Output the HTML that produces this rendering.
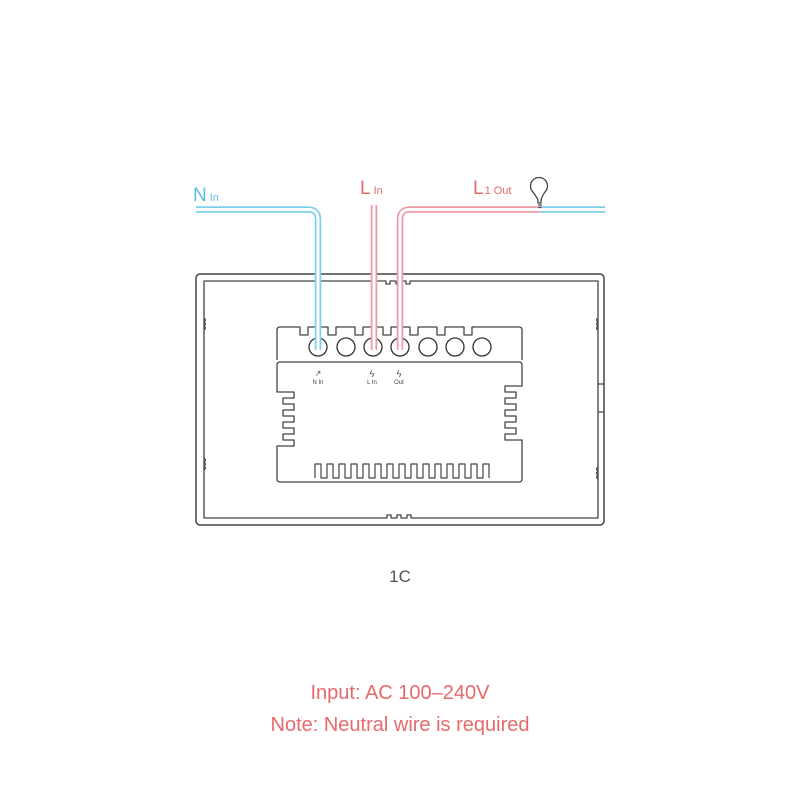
<!DOCTYPE html>
<html><head><style>body{margin:0;background:#fff}svg{display:block}</style></head><body>
<svg width="800" height="800" viewBox="0 0 800 800" font-family="Liberation Sans, sans-serif">
<g fill="none" stroke-linejoin="round">
<rect x="196" y="274" width="408" height="251" rx="4" stroke="#444" stroke-width="1.5"/>
<path d="M204 281 H386 v3 h4 v-3 h6 v3 h4 v-3 h6 v3 h4 v-3 H598 V518 H411 v-3 h-4 v3 h-6 v-3 h-4 v3 h-6 v-3 h-4 v3 H204 Z" stroke="#444" stroke-width="1.3"/>
<path d="M204 318 q3 2 0 4 q3 2 0 4 q3 2 0 4 M204 458 q3 2 0 4 q3 2 0 4 q3 2 0 4 M598 318 q-3 2 0 4 q-3 2 0 4 q-3 2 0 4 M598 467 q-3 2 0 4 q-3 2 0 4 q-3 2 0 4" stroke="#444" stroke-width="1.2"/>
<path d="M598 384 h6 M598 412 h6" stroke="#444" stroke-width="1.3"/>
<!-- terminal block top -->
<path d="M277 360 V330 q0-3 3-3 H300 v8 h8 v-8 H328 v8 h8 v-8 H355 v8 h8 v-8 H383 v8 h8 v-8 H410 v8 h8 v-8 H437 v8 h8 v-8 H464 v8 h8 v-8 H519 q3 0 3 3 V360" stroke="#444" stroke-width="1.3"/>
<g stroke="#333" stroke-width="1.3">
<circle cx="318" cy="347" r="9"/><circle cx="346" cy="347" r="9"/><circle cx="373" cy="347" r="9"/><circle cx="400" cy="347" r="9"/><circle cx="428" cy="347" r="9"/><circle cx="455" cy="347" r="9"/><circle cx="482" cy="347" r="9"/>
</g>
<!-- lower box -->
<path d="M280 362 H519 q3 0 3 3 V386 h-17 v6 h11 v6 h-11 v6 h11 v6 h-11 v6 h11 v6 h-11 v6 h11 v6 h-11 v6 h17 V479 q0 3-3 3 H280 q-3 0-3-3 V446 h17 v-6 h-11 v-6 h11 v-6 h-11 v-6 h11 v-6 h-11 v-6 h11 v-6 h-11 v-6 h11 v-6 h-17 V365 q0-3 3-3 Z" stroke="#444" stroke-width="1.3"/>
<path d="M315 478 V464 h6 v14 h6 v-14 h6 v14 h6 v-14 h6 v14 h6 v-14 h6 v14 h6 v-14 h6 v14 h6 v-14 h6 v14 h6 v-14 h6 v14 h6 v-14 h6 v14 h6 v-14 h6 v14 h6 v-14 h6 v14 h6 v-14 h6 v14 h6 v-14 h6 v14 h6 v-14 h6 v14 h6 v-14 h6 v14 h6 v-14 h6 v14" stroke="#444" stroke-width="1.2"/>
<!-- wires -->
<path d="M196 209.5 H308 q10 0 10 10 V350" stroke="#7fcfea" stroke-width="6.5"/>
<path d="M196 209.5 H308 q10 0 10 10 V350" stroke="#fff" stroke-width="3"/>
<path d="M374 205 V350" stroke="#ee9aa6" stroke-width="6.5"/>
<path d="M374 205 V350" stroke="#fff" stroke-width="3"/>
<path d="M400 350 V219.5 q0-10 10-10 H541" stroke="#ee9aa6" stroke-width="6.5"/>
<path d="M400 350 V219.5 q0-10 10-10 H541" stroke="#fff" stroke-width="3"/>
<path d="M541 209.5 H605" stroke="#7fcfea" stroke-width="6.5"/>
<path d="M541 209.5 H605" stroke="#fff" stroke-width="3"/>
<path d="M538 203 v-3 q-2-4-5-8 a8.5 8.5 0 1 1 12 0 q-3 4-4 8 v3 Z" stroke="#444" stroke-width="1.3" fill="#fff"/>
<path d="M538 205 h4 M538.5 207.5 h3" stroke="#444" stroke-width="1.3"/>
</g>
<g font-size="6" fill="#444" text-anchor="middle">
<text x="318" y="384">N In</text><text x="372" y="384">L In</text><text x="399" y="384">Out</text>
<text x="318" y="376" font-size="8">↗</text><text x="372" y="377" font-size="9">ϟ</text><text x="399" y="377" font-size="9">ϟ</text>
</g>
<text x="193" y="201" font-size="19" fill="#5bbde2">N<tspan font-size="11" dx="3">In</tspan></text>
<text x="360" y="194" font-size="19" fill="#e8696c">L<tspan font-size="11" dx="3">In</tspan></text>
<text x="473" y="194" font-size="19" fill="#e8696c">L<tspan font-size="11" dx="1">1 Out</tspan></text>
<text x="400" y="582" font-size="17" fill="#555" text-anchor="middle">1C</text>
<text x="400" y="699" font-size="20" fill="#e8696c" text-anchor="middle">Input: AC 100–240V</text>
<text x="400" y="731" font-size="20" fill="#e8696c" text-anchor="middle">Note: Neutral wire is required</text>
</svg>
</body></html>
